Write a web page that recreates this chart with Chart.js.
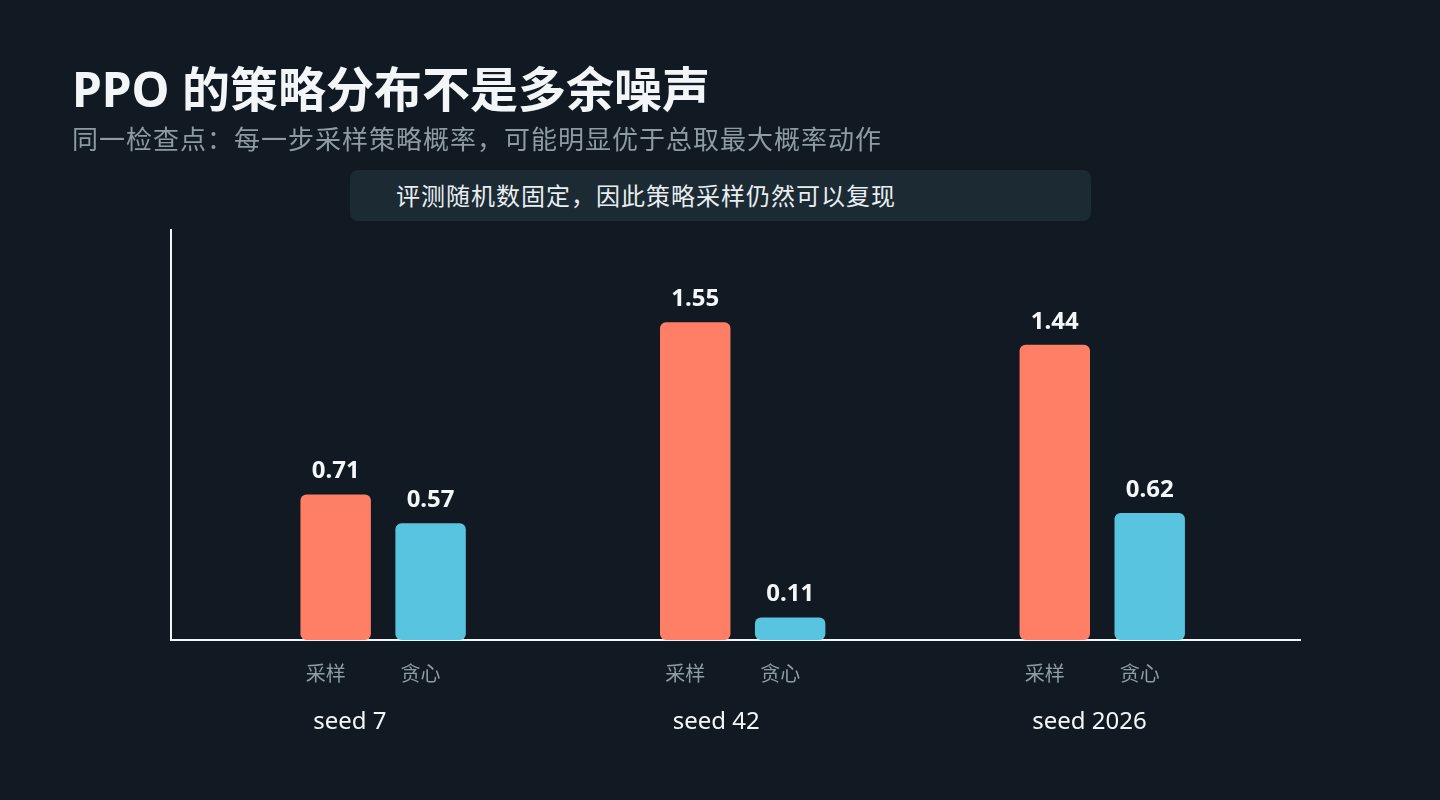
<!DOCTYPE html>
<html lang="zh">
<head>
<meta charset="utf-8">
<title>PPO 的策略分布不是多余噪声</title>
<script src="https://cdn.jsdelivr.net/npm/chart.js@4.4.1/dist/chart.umd.min.js"></script>
<style>
    html, body {
        margin: 0;
        padding: 0;
        background: #111a22;
    }
    body {
        width: 1440px;
        height: 800px;
        position: relative;
        overflow: hidden;
        font-family: "Noto Sans", "Noto Sans CJK SC", sans-serif;
    }
    #chart {
        position: absolute;
        left: 0;
        top: 0;
    }
    .title {
        position: absolute;
        left: 72px;
        top: 65px;
        margin: 0;
        font-size: 48px;
        line-height: 48px;
        font-weight: 700;
        color: #f3f6f8;
        white-space: nowrap;
    }
    .subtitle {
        position: absolute;
        left: 72px;
        top: 126px;
        font-size: 26px;
        line-height: 26px;
        letter-spacing: 1px;
        color: #8e9ba4;
        white-space: nowrap;
    }
    .note {
        position: absolute;
        left: 350px;
        top: 170px;
        width: 741px;
        height: 51px;
        box-sizing: border-box;
        padding-left: 46px;
        border-radius: 8px;
        background: #1b2a33;
        font-size: 24px;
        line-height: 51px;
        letter-spacing: 1px;
        color: #e9eef1;
        white-space: nowrap;
    }
</style>
</head>
<body>
<canvas id="chart" width="1440" height="800"></canvas>
<h1 class="title">PPO 的策略分布不是多余噪声</h1>
<div class="subtitle">同一检查点：每一步采样策略概率，可能明显优于总取最大概率动作</div>
<div class="note">评测随机数固定，因此策略采样仍然可以复现</div>

<script>
// Data
const groups = ['seed 7', 'seed 42', 'seed 2026'];
const seriesNames = ['采样', '贪心'];
const sampled = [0.71, 1.55, 1.44];
const greedy = [0.57, 0.11, 0.62];
const yMax = 2.0;

const colors = ['#ff7f66', '#58c4df'];
const textColor = '#f4f7fa';
const mutedColor = '#8d9ca5';

// Labels: values above bars, series names under bars, seed under each group
const barLabels = {
    id: 'barLabels',
    afterDatasetsDraw(chart) {
        const ctx = chart.ctx;
        const xScale = chart.scales.x;
        ctx.save();
        chart.data.datasets.forEach((ds, d) => {
            const meta = chart.getDatasetMeta(d);
            meta.data.forEach((bar, i) => {
                ctx.fillStyle = textColor;
                ctx.font = 'bold 24px "Noto Sans", sans-serif';
                ctx.textAlign = 'center';
                ctx.textBaseline = 'alphabetic';
                ctx.fillText(ds.data[i].y.toFixed(2), bar.x, bar.y - 16);

                ctx.fillStyle = mutedColor;
                ctx.font = '20px "Noto Sans CJK SC", sans-serif';
                ctx.textBaseline = 'middle';
                ctx.fillText(ds.label, bar.x - 10, chart.chartArea.bottom + 33);
            });
        });
        ctx.fillStyle = textColor;
        ctx.font = '24px "Noto Sans", sans-serif';
        ctx.textAlign = 'left';
        ctx.textBaseline = 'middle';
        groups.forEach((g, i) => {
            ctx.fillText(g, xScale.getPixelForValue(i) - 70, chart.chartArea.bottom + 82);
        });
        ctx.restore();
    },
};

const seriesValues = [sampled, greedy];

new Chart(document.getElementById('chart'), {
    type: 'bar',
    data: {
        datasets: seriesNames.map((name, s) => ({
            label: name,
            data: seriesValues[s].map((v, i) => ({ x: i, y: v })),
            backgroundColor: colors[s],
            borderWidth: 0,
            borderRadius: 6,
            borderSkipped: false,
            categoryPercentage: 0.528,
            barPercentage: 0.742,
        })),
    },
    plugins: [barLabels],
    options: {
        responsive: false,
        animation: false,
        layout: {
            padding: { left: 171, right: 140, top: 230, bottom: 160 },
        },
        plugins: {
            legend: { display: false },
            tooltip: { enabled: false },
        },
        scales: {
            x: {
                type: 'linear',
                offset: false,
                min: -0.59,
                max: 2.55,
                afterBuildTicks: (axis) => {
                    axis.ticks = groups.map((g, i) => ({ value: i }));
                },
                ticks: { display: false },
                grid: { display: false, drawTicks: false },
                border: { display: true, color: textColor, width: 2 },
            },
            y: {
                min: 0,
                max: yMax,
                ticks: { display: false },
                grid: { display: false, drawTicks: false },
                border: { display: true, color: textColor, width: 2 },
            },
        },
    },
});
</script>
</body>
</html>
